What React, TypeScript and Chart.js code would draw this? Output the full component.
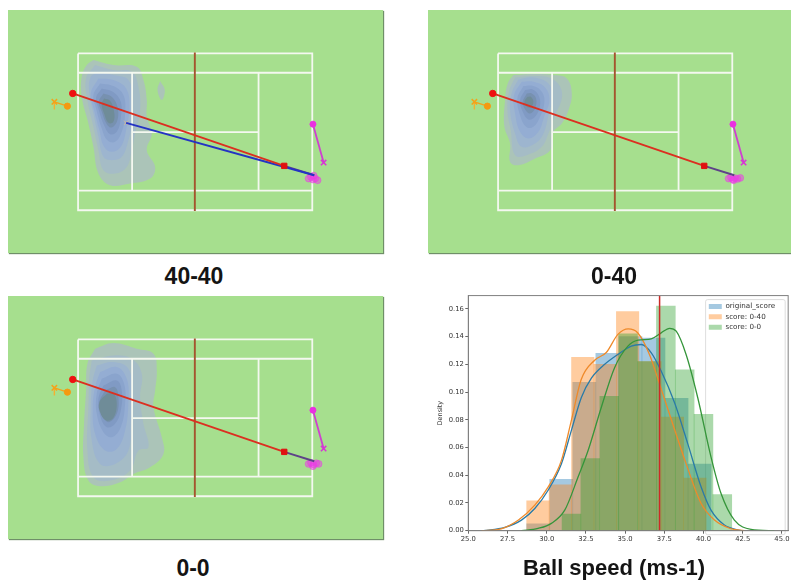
import React, { useEffect, useRef } from "react";
import { Chart, registerables } from "chart.js";

Chart.register(...registerables);

type P = [number, number];

// ---- Court geometry (court-image units) ----
const courtOuter: P[] = [[234, 160], [936, 160], [936, 630], [234, 630], [234, 160]];
const singlesTop: P[] = [[234, 218], [936, 218]];
const singlesBottom: P[] = [[234, 571], [936, 571]];
const serviceLeft: P[] = [[396, 218], [396, 571]];
const serviceRight: P[] = [[775, 218], [775, 571]];
const serviceCentre: P[] = [[396, 396], [775, 396]];
const netLine: P[] = [[584, 157], [584, 632]];

const ballPath: P[] = [[218, 280], [852, 497]];
const ballExit: P[] = [[852, 497], [942, 525]];
const altPath: P[] = [[378, 368], [942, 525]];
const altStart: P[] = [[378, 368]];
const receiverSwing: P[] = [[938, 372], [970, 487]];
const serverSwing: P[] = [[163, 305], [202, 318]];
const serverStem: P[] = [[163, 305], [163, 328]];

const blob4040: P[] = [[925, 535], [932, 530], [938, 538], [945, 535], [952, 540], [940, 526]];
const blob040: P[] = [[925, 535], [932, 532], [938, 537], [945, 534], [952, 536], [960, 533], [940, 540]];
const blob00: P[] = [[925, 533], [932, 530], [940, 535], [948, 531], [955, 533], [938, 540]];

// ---- Density contours, outermost first ----
const ringColors = ["#abc4b8", "#a5bcc6", "#9db5cf", "#94add3", "#8aa4cd", "#809ac4", "#7791b0", "#6f8c98"];

const kde4040: P[][] = [
  [[280, 180], [340, 195], [410, 200], [430, 240], [440, 300], [440, 350], [455, 400], [440, 450], [465, 500], [450, 535], [390, 550], [330, 555], [295, 520], [280, 440], [265, 370], [245, 290], [245, 230], [260, 195]],
  [[285, 195], [340, 210], [395, 215], [415, 260], [420, 330], [405, 400], [395, 450], [380, 500], [345, 520], [310, 510], [295, 450], [280, 380], [262, 300], [258, 235]],
  [[290, 215], [340, 225], [385, 240], [398, 300], [395, 370], [385, 420], [365, 470], [335, 480], [310, 470], [295, 410], [280, 340], [268, 280], [270, 235]],
  [[295, 235], [340, 240], [378, 265], [388, 320], [378, 390], [362, 440], [335, 455], [312, 440], [298, 390], [282, 330], [272, 280]],
  [[300, 250], [340, 258], [370, 285], [375, 340], [365, 395], [345, 425], [322, 420], [305, 385], [288, 325], [280, 285]],
  [[305, 265], [338, 275], [362, 305], [362, 355], [350, 395], [330, 402], [312, 375], [295, 325], [288, 292]],
  [[310, 280], [335, 290], [352, 320], [352, 360], [335, 382], [320, 372], [305, 335], [296, 305]],
  [[312, 295], [330, 302], [342, 335], [340, 365], [325, 368], [312, 340], [305, 312]],
];
const kde4040Island: P[] = [[480, 243], [494, 270], [485, 300], [472, 270]];

const kde040: P[][] = [
  [[280, 225], [345, 222], [400, 225], [440, 235], [455, 280], [445, 330], [425, 370], [400, 395], [390, 450], [345, 475], [295, 495], [270, 485], [270, 430], [253, 380], [255, 300], [263, 250]],
  [[285, 232], [345, 228], [393, 235], [420, 260], [425, 295], [405, 345], [385, 400], [365, 440], [320, 465], [285, 465], [272, 390], [262, 330], [268, 270]],
  [[295, 238], [340, 232], [385, 250], [397, 290], [385, 345], [370, 400], [345, 430], [305, 440], [285, 400], [270, 330], [276, 275]],
  [[305, 245], [340, 245], [375, 262], [388, 300], [372, 350], [355, 395], [325, 415], [300, 395], [285, 340], [282, 285]],
  [[310, 258], [340, 258], [365, 275], [373, 305], [360, 350], [340, 380], [318, 380], [300, 345], [292, 295]],
  [[315, 270], [338, 268], [355, 285], [360, 315], [345, 350], [325, 358], [308, 335], [300, 300]],
  [[320, 280], [335, 280], [348, 295], [345, 325], [330, 340], [315, 328], [308, 305]],
  [[322, 290], [332, 290], [340, 305], [332, 322], [320, 320], [313, 305]],
];

const kde00: P[][] = [
  [[285, 188], [340, 171], [410, 188], [460, 203], [470, 253], [465, 313], [460, 363], [485, 453], [490, 503], [450, 543], [400, 563], [360, 588], [300, 600], [265, 583], [250, 513], [252, 413], [258, 313], [262, 233]],
  [[275, 223], [340, 208], [395, 218], [425, 263], [420, 333], [430, 413], [445, 483], [415, 493], [390, 553], [330, 583], [280, 573], [262, 493], [265, 363], [268, 273]],
  [[290, 238], [340, 228], [385, 248], [395, 313], [392, 413], [385, 493], [345, 533], [300, 533], [275, 463], [272, 363], [278, 283]],
  [[300, 258], [350, 243], [380, 278], [385, 343], [375, 433], [350, 488], [315, 493], [285, 443], [278, 363], [285, 303]],
  [[305, 278], [350, 263], [372, 293], [375, 353], [362, 423], [335, 453], [310, 438], [290, 383], [290, 323]],
  [[310, 298], [350, 283], [365, 313], [362, 373], [345, 413], [320, 423], [300, 388], [295, 338]],
  [[315, 313], [345, 303], [355, 333], [350, 383], [325, 408], [305, 383], [298, 348]],
  [[320, 323], [340, 321], [350, 353], [340, 395], [318, 403], [300, 378], [298, 348]],
];

// ---- Ball speed histogram ----
const legendNames = ["original_score", "score: 0-40", "score: 0-0"];
const speedTicks = [25, 27.5, 30, 32.5, 35, 37.5, 40, 42.5, 45];
const meanSpeed = 37.2;

const binsOriginal = [29.46, 30.93, 32.4, 33.87, 35.34, 36.81, 38.28, 39.75];
const densOriginal = [0.005, 0.037, 0.107, 0.128, 0.14, 0.139, 0.0955, 0.048];
const bins040 = [29.44, 30.87, 32.3, 33.73, 35.16, 36.59, 38.02, 39.45];
const dens040 = [0.0215, 0.033, 0.125, 0.12, 0.158, 0.122, 0.082, 0.038];
const bins00 = [31.58, 32.78, 33.99, 35.19, 36.4, 37.6, 38.8, 40.0, 41.2];
const dens00 = [0.012, 0.052, 0.097, 0.142, 0.122, 0.162, 0.116, 0.084, 0.026];

const curveOriginal: P[] = [[25.95, 0], [27.33, 0.0024], [28.39, 0.0076], [29.24, 0.016], [30.09, 0.0292], [30.94, 0.0483], [31.57, 0.0722], [32.21, 0.0961], [32.85, 0.11], [33.7, 0.12], [34.54, 0.1271], [35.39, 0.1331], [36.03, 0.1343], [36.67, 0.1283], [37.3, 0.1152], [38.15, 0.0925], [39.0, 0.0626], [39.85, 0.0315], [40.48, 0.0148], [41.33, 0.0041], [42.39, 0]];
const curve040: P[] = [[25.85, 0], [27.1, 0.0014], [28.2, 0.0077], [29.24, 0.0184], [30.1, 0.0316], [30.94, 0.0507], [31.57, 0.0794], [32.2, 0.109], [33.06, 0.123], [33.8, 0.1285], [34.54, 0.1416], [35.2, 0.1456], [35.8, 0.1428], [36.56, 0.127], [37.2, 0.1057], [38.04, 0.077], [38.9, 0.048], [39.85, 0.0196], [40.7, 0.0077], [41.75, 0.0014], [42.6, 0]];
const curve00: P[] = [[28.39, 0], [29.45, 0.0017], [30.3, 0.0053], [31.15, 0.0148], [32.0, 0.0387], [32.64, 0.0578], [33.48, 0.0889], [34.33, 0.1176], [35.18, 0.1331], [35.82, 0.1374], [36.67, 0.1384], [37.3, 0.1427], [37.83, 0.146], [38.26, 0.1439], [38.89, 0.1271], [39.63, 0.0961], [40.48, 0.0531], [41.12, 0.0268], [41.97, 0.0076], [43.03, 0.001], [44.51, 0]];

const xy = (pts: P[]) => pts.map(([x, y]) => ({ x, y }));
const closed = (pts: P[]) => xy([...pts, pts[0]]);

const seg = (pts: P[], color: string, width: number) => ({
  data: xy(pts), showLine: true, borderColor: color, borderWidth: width, pointRadius: 0, tension: 0,
});
const dots = (pts: P[], color: string, radius: number, style = "circle", border = 1) => ({
  data: xy(pts), showLine: false, backgroundColor: color, borderColor: color, pointRadius: radius, pointBorderWidth: border, pointStyle: style,
});

function courtDatasets(rings: P[][], extraRings: P[][], blob: P[], showAlt: boolean) {
  const fillRing = (r: P[], color: string) => ({
    data: closed(r), showLine: true, fill: "shape", backgroundColor: color, borderWidth: 0, borderColor: "transparent", pointRadius: 0, tension: 0.4,
  });
  const list: any[] = [
    ...extraRings.map((r) => fillRing(r, ringColors[0])),
    ...rings.map((r, i) => fillRing(r, ringColors[i])),
    seg(courtOuter, "#f4f8f0", 1.8),
    seg(singlesTop, "#f4f8f0", 1.8),
    seg(singlesBottom, "#f4f8f0", 1.8),
    seg(serviceLeft, "#f4f8f0", 1.8),
    seg(serviceRight, "#f4f8f0", 1.8),
    seg(serviceCentre, "#f4f8f0", 1.8),
    seg(netLine, "#a4552f", 1.9),
    dots(blob, "rgba(236,60,230,0.5)", 3.4),
    seg(ballExit, "#5e4288", 1.9),
  ];
  if (showAlt) {
    list.push(dots(altStart, "rgba(240,190,120,0.7)", 3, "crossRot"));
    list.push(seg(altPath, "#2433c4", 1.9));
  }
  list.push(
    seg(ballPath, "#dc2f20", 1.9),
    dots([ballPath[0]], "#ee1010", 3.2),
    dots([ballPath[1]], "#e01010", 3.8, "rect"),
    seg(receiverSwing, "#cf3fd0", 1.8),
    dots([receiverSwing[0]], "#ea30e0", 3),
    dots([receiverSwing[1]], "#d835d5", 3.8, "crossRot", 1.5),
    seg(serverSwing, "#f5a21a", 1.4),
    seg(serverStem, "#f5b030", 1.4),
    dots([serverSwing[0]], "#f5a21a", 3.8, "crossRot", 1.5),
    dots([serverSwing[1]], "#f59a10", 3.1),
  );
  // first dataset is painted last: reverse so the list reads bottom to top
  return list.map((d, i) => ({ ...d, order: list.length - i }));
}

function CourtPanel(props: { left: number; top: number; rings: P[][]; extra?: P[][]; blob: P[]; alt?: boolean }) {
  const ref = useRef<HTMLCanvasElement>(null);
  useEffect(() => {
    const chart = new Chart(ref.current!, {
      type: "scatter",
      data: { datasets: courtDatasets(props.rings, props.extra || [], props.blob, !!props.alt) as any },
      options: {
        animation: false,
        responsive: false,
        events: [],
        layout: { padding: 0, autoPadding: false },
        plugins: { legend: { display: false }, tooltip: { enabled: false } },
        scales: {
          x: { type: "linear", display: false, min: 24, max: 1148 },
          y: { type: "linear", display: false, min: 30, max: 758, reverse: true },
        },
      },
    });
    return () => chart.destroy();
  }, []);
  return (
    <canvas
      ref={ref}
      width={375}
      height={243}
      style={{
        position: "absolute", left: props.left, top: props.top, width: 375, height: 243,
        background: "#a6df8e", boxShadow: "1px 1px 1px #6f8f68", filter: "blur(0.5px)",
      }}
    />
  );
}

const legendFrame = {
  id: "legendFrame",
  beforeDraw(chart: any) {
    const l = chart.legend, a = chart.chartArea, c = chart.ctx;
    l.left = a.right - l.width - 3;
    l.top = a.top + 4;
    c.save();
    c.fillStyle = "rgba(255,255,255,0.8)";
    c.strokeStyle = "#d4d4d4";
    c.lineWidth = 0.8;
    c.beginPath();
    c.roundRect(l.left, l.top, l.width, l.height, 2);
    c.fill();
    c.stroke();
    c.restore();
  },
  afterDraw(chart: any) {
    const a = chart.chartArea, c = chart.ctx;
    c.save();
    c.strokeStyle = "#808080";
    c.lineWidth = 1;
    c.strokeRect(a.left, a.top, a.right - a.left, a.bottom - a.top);
    c.restore();
  },
};

function SpeedChart() {
  const ref = useRef<HTMLCanvasElement>(null);
  useEffect(() => {
    const bar = (label: string, xs: number[], ys: number[], color: string, axis: string, order: number) => ({
      type: "bar", label, data: xs.map((x, i) => ({ x, y: ys[i] })), backgroundColor: color, borderWidth: 0,
      xAxisID: axis, barPercentage: 1, categoryPercentage: 1, grouped: false, order,
    });
    const curve = (label: string, pts: P[], color: string, order: number) => ({
      type: "line", label, data: xy(pts), borderColor: color, backgroundColor: color, borderWidth: 1.3,
      pointRadius: 0, cubicInterpolationMode: "monotone", xAxisID: "x", order,
    });
    const hidden = {
      type: "linear", display: false, min: 25, max: 45.4, offset: false,
      afterBuildTicks: (s: any) => { s.ticks = [{ value: 25 }, { value: 45.4 }]; },
    };
    const chart = new Chart(ref.current!, {
      type: "bar",
      data: {
        datasets: [
          bar(legendNames[0], binsOriginal, densOriginal, "rgba(31,119,180,0.4)", "x1", 6),
          bar(legendNames[1], bins040, dens040, "rgba(255,127,14,0.4)", "x2", 5),
          bar(legendNames[2], bins00, dens00, "rgba(44,160,44,0.4)", "x3", 4),
          curve("kde original", curveOriginal, "#2a7ba8", 3),
          curve("kde 0-40", curve040, "#ef8a2a", 2),
          curve("kde 0-0", curve00, "#35953a", 1),
          {
            type: "line", label: "mean", data: [{ x: meanSpeed, y: 0 }, { x: meanSpeed, y: 0.1696 }],
            borderColor: "#cc2a26", borderWidth: 1.5, pointRadius: 0, xAxisID: "x", order: 0,
          },
        ] as any,
      },
      options: {
        animation: false,
        responsive: false,
        events: [],
        layout: { padding: { left: 11, top: 4.3, right: 2, bottom: 0 } },
        plugins: {
          tooltip: { enabled: false },
          legend: {
            position: "chartArea",
            align: "start",
            labels: {
              filter: (item: any) => item.datasetIndex < 3,
              sort: (a: any, b: any) => a.datasetIndex - b.datasetIndex,
              boxWidth: 13,
              boxHeight: 5,
              padding: 3.2,
              color: "#333",
              font: { family: "DejaVu Sans", size: 7.2 },
            },
          },
        },
        scales: {
          x: {
            type: "linear", min: 25, max: 45.4, offset: false,
            afterBuildTicks: (s: any) => { s.ticks = speedTicks.map((value) => ({ value })); },
            afterFit: (s: any) => { s.height = 29.3; },
            grid: { drawOnChartArea: false, tickLength: 3, color: "#666", offset: false },
            border: { color: "#808080" },
            ticks: {
              maxRotation: 0, color: "#333", padding: 1.5, autoSkip: false,
              font: { family: "DejaVu Sans", size: 6.8 },
              callback: (v: any) => Number(v).toFixed(1),
            },
          },
          x1: hidden, x2: hidden, x3: hidden,
          y: {
            type: "linear", min: 0, max: 0.1696,
            afterFit: (s: any) => { s.width = 32.3; },
            grid: { drawOnChartArea: false, tickLength: 3, color: "#666" },
            border: { color: "#808080" },
            title: { display: true, text: "Density", color: "#333", padding: 0, font: { family: "DejaVu Sans", size: 6.5 } },
            ticks: {
              stepSize: 0.02, color: "#333", padding: 1.5, includeBounds: false,
              font: { family: "DejaVu Sans", size: 6.8 },
              callback: (v: any) => Number(v).toFixed(2),
            },
          },
        } as any,
      },
      plugins: [legendFrame],
    });
    return () => chart.destroy();
  }, []);
  return (
    <canvas
      ref={ref}
      width={366}
      height={270}
      style={{ position: "absolute", left: 425, top: 290, width: 366, height: 270, filter: "blur(0.45px)" }}
    />
  );
}

const Caption = (p: { x: number; y: number; text: string; size: number }) => (
  <div
    style={{
      position: "absolute", left: p.x, top: p.y, transform: "translateX(-50%)", whiteSpace: "nowrap",
      font: `700 ${p.size}px 'Liberation Sans', Arial, sans-serif`, lineHeight: "26px", color: "#141414",
    }}
  >
    {p.text}
  </div>
);

export default function App() {
  return (
    <div style={{ position: "absolute", left: 0, top: 0, width: 791, height: 581, overflow: "hidden", background: "#fff" }}>
      <CourtPanel left={8} top={10} rings={kde4040} extra={[kde4040Island]} blob={blob4040} alt />
      <CourtPanel left={428} top={10} rings={kde040} blob={blob040} />
      <CourtPanel left={8} top={296} rings={kde00} blob={blob00} />
      <SpeedChart />
      <Caption x={194} y={263} size={23} text="40-40" />
      <Caption x={614} y={263} size={23} text="0-40" />
      <Caption x={193} y={555} size={23} text="0-0" />
      <Caption x={614} y={555} size={22} text="Ball speed (ms-1)" />
    </div>
  );
}
